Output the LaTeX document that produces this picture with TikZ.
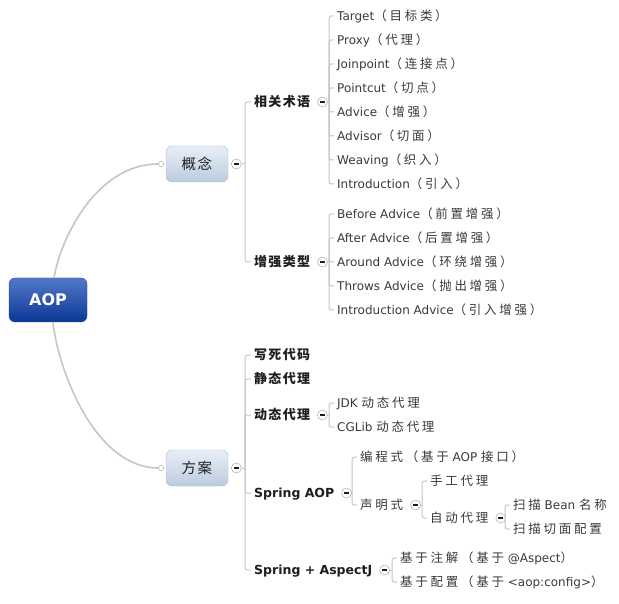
\documentclass[tikz,border=0pt]{standalone}
\usepackage{fontspec}
\setmainfont{DejaVu Sans}
\newfontfamily\cjk[Scale=1.04,LetterSpace=22]{Noto Sans CJK SC}
\newfontfamily\cjkb[Scale=1.04,LetterSpace=10]{Noto Sans CJK SC}
\usetikzlibrary{positioning}
\definecolor{linegray}{HTML}{C6C6C6}
\definecolor{foldgray}{HTML}{9A9A9A}
\definecolor{darktext}{HTML}{1E1E1E}
\definecolor{leaftext}{HTML}{3A3A3A}
\definecolor{aoptop}{HTML}{5478C8}
\definecolor{aopbot}{HTML}{0A3796}
\definecolor{aopedge}{HTML}{23469A}
\definecolor{topictop}{HTML}{E8EEF6}
\definecolor{topicbot}{HTML}{BACCE0}
\definecolor{topicedge}{HTML}{A8B8CA}
\newcommand\zh[1]{{\cjk #1}}
\newcommand\zhb[1]{{\cjkb #1}}

\begin{document}
\begin{tikzpicture}[x=1pt,y=-1pt,
  trunk/.style={draw=linegray,line width=1.6pt},
  branch/.style={draw=linegray,line width=1pt,rounded corners=2.5pt},
  root node/.style={rounded corners=6pt,draw=aopedge,top color=aoptop,bottom color=aopbot,text=white,font=\bfseries\fontsize{16}{18}\selectfont,minimum width=78pt,minimum height=44pt},
  topic node/.style={rounded corners=6pt,draw=topicedge,top color=topictop,bottom color=topicbot,text=darktext,font=\fontsize{14}{16}\selectfont,minimum width=62pt,minimum height=36pt},
  sub node/.style={anchor=west,inner xsep=3pt,inner ysep=1pt,text height=9.5pt,text depth=0.5pt,text=darktext,font=\bfseries\fontsize{12.5}{14}\selectfont},
  leaf node/.style={anchor=west,inner xsep=3pt,inner ysep=1pt,text height=9pt,text depth=0.5pt,text=leaftext,font=\fontsize{12}{14}\selectfont},
  fold node/.style={circle,draw=foldgray,fill=white,minimum size=10pt,inner sep=0pt,
    path picture={\draw[line width=1.3pt,darktext] ([xshift=-2.6pt]path picture bounding box.center) -- ([xshift=2.6pt]path picture bounding box.center);}},
  dot node/.style={circle,draw=foldgray,fill=white,minimum size=5pt,inner sep=0pt}]

  \path[fill=white] (0,0) rectangle (619,604);

  % main topics
  \node[root node] (aop) at (48,300) {AOP};
  \node[topic node] (gn) at (197,164) {\zhb{概念}};
  \node[topic node] (fa) at (197,468) {\zhb{方案}};
  \node[dot node] (gnin) [left=2pt of gn] {};
  \node[dot node] (fain) [left=2pt of fa] {};
  \node[fold node] (gnout) [right=3pt of gn] {};
  \node[fold node] (faout) [right=3pt of fa] {};

  \draw[trunk] ([xshift=6pt]aop.north) .. controls +(6,-37) and +(-66,0) .. (gnin);
  \draw[trunk] ([xshift=5pt]aop.south) .. controls +(5,48) and +(-66,0) .. (fain);

  % 概念
  \node[sub node] (xg) at (251,102) {\zhb{相关术语}};
  \node[sub node] (zq) at (251,262) {\zhb{增强类型}};
  \node[fold node] (xgout) [right=4pt of xg] {};
  \node[fold node] (zqout) [right=4pt of zq] {};

  \node[leaf node] (tg) at (334,16) {Target\zh{（目标类）}};
  \node[leaf node] (px) at (334,40) {Proxy\zh{（代理）}};
  \node[leaf node] (jp) at (334,64) {Joinpoint\zh{（连接点）}};
  \node[leaf node] (pc) at (334,88) {Pointcut\zh{（切点）}};
  \node[leaf node] (ad) at (334,112) {Advice\zh{（增强）}};
  \node[leaf node] (as) at (334,136) {Advisor\zh{（切面）}};
  \node[leaf node] (wv) at (334,160) {Weaving\zh{（织入）}};
  \node[leaf node] (it) at (334,184) {Introduction\zh{（引入）}};

  \node[leaf node] (ba) at (334,214) {Before Advice\zh{（前置增强）}};
  \node[leaf node] (fa1) at (334,238) {After Advice\zh{（后置增强）}};
  \node[leaf node] (ra) at (334,262) {Around Advice\zh{（环绕增强）}};
  \node[leaf node] (ta) at (334,286) {Throws Advice\zh{（抛出增强）}};
  \node[leaf node] (ia) at (334,310) {Introduction Advice\zh{（引入增强）}};

  % 方案
  \node[sub node] (xs) at (251,355) {\zhb{写死代码}};
  \node[sub node] (jt) at (251,379) {\zhb{静态代理}};
  \node[sub node] (dt) at (251,415) {\zhb{动态代理}};
  \node[sub node] (sa) at (251,493) {Spring AOP};
  \node[sub node] (sj) at (251,570) {Spring + AspectJ};
  \node[fold node] (dtout) [right=4pt of dt] {};
  \node[fold node] (saout) [right=4pt of sa] {};
  \node[fold node] (sjout) [right=4pt of sj] {};

  \node[leaf node] (jdk) at (334,403) {JDK \zh{动态代理}};
  \node[leaf node] (cgl) at (334,427) {CGLib \zh{动态代理}};

  \node[leaf node] (bc) at (357,457) {\zh{编程式（基于} AOP \zh{接口）}};
  \node[leaf node] (sm) at (357,505) {\zh{声明式}};
  \node[fold node] (smout) [right=4pt of sm] {};
  \node[leaf node] (sg) at (427,481) {\zh{手工代理}};
  \node[leaf node] (zd) at (427,518) {\zh{自动代理}};
  \node[fold node] (zdout) [right=4pt of zd] {};
  \node[leaf node] (smb) at (510,505) {\zh{扫描} Bean \zh{名称}};
  \node[leaf node] (smq) at (510,529) {\zh{扫描切面配置}};

  \node[leaf node] (zj) at (397,558) {\zh{基于注解（基于} @Aspect\zh{）}};
  \node[leaf node] (pz) at (397,582) {\zh{基于配置（基于} <aop:config>\zh{）}};

  % bars
  \coordinate (gnbar) at ([xshift=-6pt]xg.west |- gnout);
  \coordinate (xgbar) at ([xshift=-5pt]tg.west |- xgout);
  \coordinate (zqbar) at ([xshift=-5pt]ba.west |- zqout);
  \coordinate (fabar) at ([xshift=-6pt]xs.west |- faout);
  \coordinate (dtbar) at ([xshift=-5pt]jdk.west |- dtout);
  \coordinate (sabar) at ([xshift=-5pt]bc.west |- saout);
  \coordinate (smbar) at ([xshift=-5pt]sg.west |- smout);
  \coordinate (zdbar) at ([xshift=-5pt]smb.west |- zdout);
  \coordinate (sjbar) at ([xshift=-5pt]zj.west |- sjout);

  \draw[branch] (gnout) -- (gnbar);
  \draw[branch] (xgout) -- (xgbar);
  \draw[branch] (zqout) -- (zqbar);
  \draw[branch] (faout) -- (fabar);
  \draw[branch] (dtout) -- (dtbar);
  \draw[branch] (saout) -- (sabar);
  \draw[branch] (smout) -- (smbar);
  \draw[branch] (zdout) -- (zdbar);
  \draw[branch] (sjout) -- (sjbar);

  \draw[branch] (gnbar) |- (xg.west);
  \draw[branch] (gnbar) |- (zq.west);

  \draw[branch] (xgbar) |- (tg.west);
  \draw[branch] (xgbar) |- (px.west);
  \draw[branch] (xgbar) |- (jp.west);
  \draw[branch] (xgbar) |- (pc.west);
  \draw[branch] (xgbar) |- (ad.west);
  \draw[branch] (xgbar) |- (as.west);
  \draw[branch] (xgbar) |- (wv.west);
  \draw[branch] (xgbar) |- (it.west);

  \draw[branch] (zqbar) |- (ba.west);
  \draw[branch] (zqbar) |- (fa1.west);
  \draw[branch] (zqbar) |- (ra.west);
  \draw[branch] (zqbar) |- (ta.west);
  \draw[branch] (zqbar) |- (ia.west);

  \draw[branch] (fabar) |- (xs.west);
  \draw[branch] (fabar) |- (jt.west);
  \draw[branch] (fabar) |- (dt.west);
  \draw[branch] (fabar) |- (sa.west);
  \draw[branch] (fabar) |- (sj.west);

  \draw[branch] (dtbar) |- (jdk.west);
  \draw[branch] (dtbar) |- (cgl.west);

  \draw[branch] (sabar) |- (bc.west);
  \draw[branch] (sabar) |- (sm.west);

  \draw[branch] (smbar) |- (sg.west);
  \draw[branch] (smbar) |- (zd.west);

  \draw[branch] (zdbar) |- (smb.west);
  \draw[branch] (zdbar) |- (smq.west);

  \draw[branch] (sjbar) |- (zj.west);
  \draw[branch] (sjbar) |- (pz.west);
\end{tikzpicture}
\end{document}
